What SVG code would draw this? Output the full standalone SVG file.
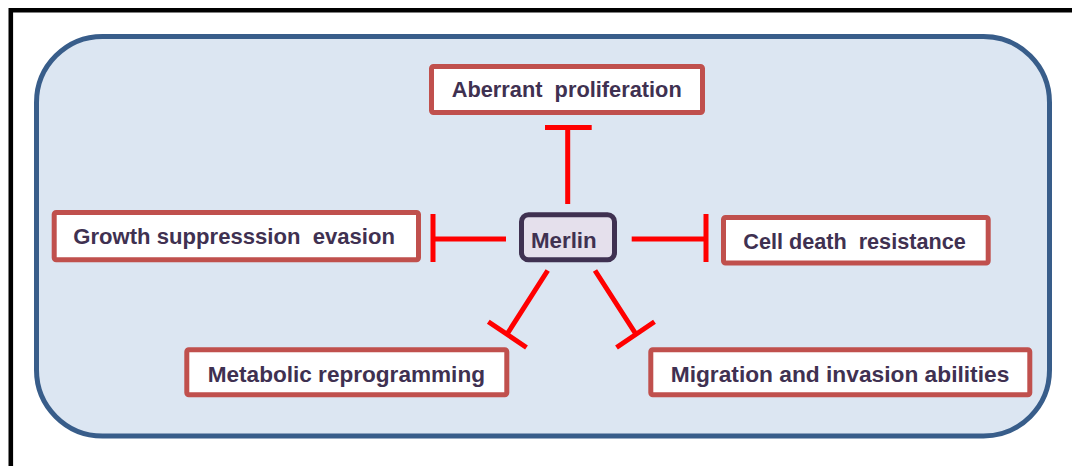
<svg xmlns="http://www.w3.org/2000/svg" width="1072" height="466" viewBox="0 0 1072 466">
<style>
.box{fill:#FFFFFF;stroke:#C0504D;stroke-width:5}
.lbl{font-family:"Liberation Sans",Arial,sans-serif;font-weight:bold;font-size:22px;fill:#3F3151;white-space:pre}
.inh{stroke:#FF0000;stroke-width:5;fill:none}
</style>
<rect width="1072" height="466" fill="#FFFFFF"/>
<path d="M10.8 466 V10.3 H1072" fill="none" stroke="#000000" stroke-width="4.6"/>
<rect id="panel" x="36.5" y="36.5" width="1013" height="399.5" rx="66" ry="66" fill="#DCE6F2" stroke="#385D8A" stroke-width="5"/>
<g id="connectors">
<path class="inh" d="M567.7 204 V127.5 M545 127.5 H591.7"/>
<path class="inh" d="M506 239 H433 M433 214 V262"/>
<path class="inh" d="M631.7 239 H706 M706 214 V262"/>
<path class="inh" d="M547.7 270.5 L507.5 333.5 M488.3 321.7 L526.5 347.5"/>
<path class="inh" d="M595 270.5 L635.5 333.5 M616.5 347.5 L654.5 321.7"/>
</g>
<g id="merlin">
<rect x="521.5" y="214.8" width="93" height="45" rx="7" ry="7" fill="#E5E0EC" stroke="#3F3151" stroke-width="5"/>
<text class="lbl" x="531" y="248.3" textLength="65.7" lengthAdjust="spacingAndGlyphs">Merlin</text>
</g>
<g id="aberrant-proliferation">
<rect class="box" x="431.5" y="66.5" width="271" height="46" rx="2"/>
<text class="lbl" xml:space="preserve" x="451.7" y="96.7" textLength="230" lengthAdjust="spacingAndGlyphs">Aberrant  proliferation</text>
</g>
<g id="growth-suppression-evasion">
<rect class="box" x="54.2" y="212.5" width="364.3" height="47.3" rx="2"/>
<text class="lbl" xml:space="preserve" x="73.3" y="244.3" textLength="321.7" lengthAdjust="spacingAndGlyphs">Growth suppresssion  evasion</text>
</g>
<g id="cell-death-resistance">
<rect class="box" x="723.5" y="217.5" width="264.7" height="45.5" rx="2"/>
<text class="lbl" xml:space="preserve" x="743.3" y="249" textLength="222.4" lengthAdjust="spacingAndGlyphs">Cell death  resistance</text>
</g>
<g id="metabolic-reprogramming">
<rect class="box" x="186.8" y="349.8" width="320" height="45" rx="2"/>
<text class="lbl" x="207.7" y="382.3" textLength="277.3" lengthAdjust="spacingAndGlyphs">Metabolic reprogramming</text>
</g>
<g id="migration-invasion">
<rect class="box" x="650.8" y="349.8" width="379" height="45" rx="2"/>
<text class="lbl" x="670.7" y="382.3" textLength="338.6" lengthAdjust="spacingAndGlyphs">Migration and invasion abilities</text>
</g>
</svg>
